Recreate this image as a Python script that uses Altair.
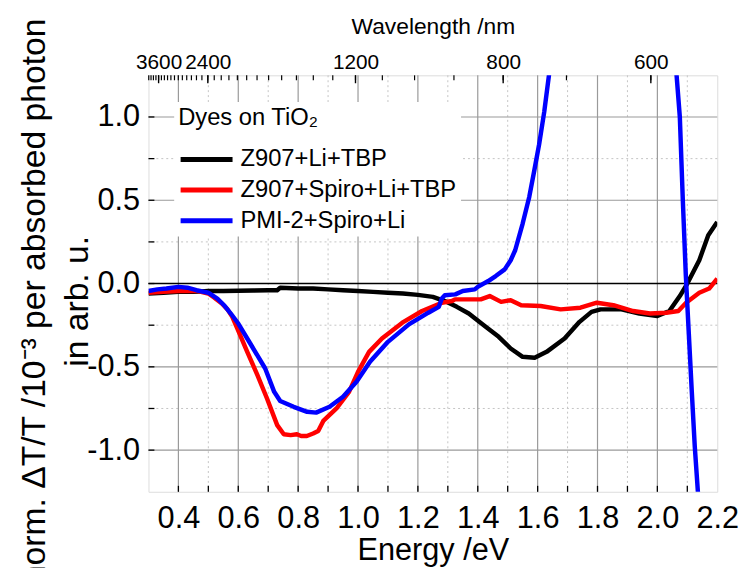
import altair as alt
import pandas as pd

FONT = "Liberation Sans"

series_names = ["Z907+Li+TBP", "Z907+Spiro+Li+TBP", "PMI-2+Spiro+Li"]
series_colors = ["#000000", "#ff0000", "#0000ff"]

# Z907+Li+TBP
black_E = [0.30, 0.35, 0.40, 0.45, 0.50, 0.55, 0.60, 0.65, 0.70, 0.73, 0.74, 0.80, 0.85, 0.90,
           0.95, 1.00, 1.05, 1.10, 1.15, 1.20, 1.25, 1.29, 1.33, 1.37, 1.42, 1.47, 1.51, 1.55,
           1.59, 1.63, 1.69, 1.74, 1.78, 1.81, 1.88, 1.94, 2.00, 2.04, 2.075, 2.10, 2.14, 2.17, 2.20]
black_v = [-0.06, -0.055, -0.05, -0.05, -0.045, -0.045, -0.043, -0.042, -0.04, -0.04, -0.025,
           -0.03, -0.03, -0.035, -0.04, -0.045, -0.05, -0.055, -0.06, -0.068, -0.08, -0.105,
           -0.14, -0.18, -0.25, -0.32, -0.39, -0.44, -0.445, -0.41, -0.33, -0.23, -0.17, -0.155,
           -0.155, -0.18, -0.195, -0.165, -0.075, 0.0, 0.14, 0.29, 0.37]

# Z907+Spiro+Li+TBP
red_E = [0.30, 0.35, 0.40, 0.465, 0.50, 0.52, 0.545, 0.564, 0.58, 0.597, 0.63, 0.664, 0.696, 0.73,
         0.752, 0.775, 0.796, 0.81, 0.829, 0.85, 0.867, 0.884, 0.928, 0.97, 1.00, 1.037, 1.08,
         1.148, 1.214, 1.28, 1.314, 1.324, 1.41, 1.44, 1.478, 1.51, 1.545, 1.61, 1.677, 1.743,
         1.798, 1.853, 1.919, 1.975, 2.03, 2.07, 2.096, 2.14, 2.173, 2.20]
red_v = [-0.055, -0.05, -0.045, -0.045, -0.06, -0.085, -0.12, -0.155, -0.2, -0.27, -0.41, -0.55,
         -0.69, -0.85, -0.905, -0.91, -0.905, -0.915, -0.915, -0.9, -0.885, -0.825, -0.75, -0.65,
         -0.53, -0.41, -0.33, -0.235, -0.165, -0.115, -0.105, -0.095, -0.095, -0.075, -0.11, -0.10,
         -0.13, -0.135, -0.155, -0.145, -0.115, -0.13, -0.165, -0.18, -0.175, -0.165, -0.115,
         -0.055, -0.03, 0.03]

# PMI-2+Spiro+Li (two visible pieces, it leaves the frame in between)
blue1_E = [0.30, 0.33, 0.36, 0.40, 0.43, 0.46, 0.50, 0.53, 0.555, 0.575, 0.60, 0.64, 0.69, 0.72,
           0.74, 0.785, 0.83, 0.86, 0.905, 0.95, 0.995, 1.04, 1.10, 1.17, 1.235, 1.27, 1.28, 1.29,
           1.325, 1.35, 1.39, 1.40, 1.435, 1.46, 1.49, 1.51, 1.525, 1.55, 1.572, 1.589, 1.605,
           1.622, 1.645]
blue1_v = [-0.045, -0.035, -0.03, -0.02, -0.025, -0.04, -0.055, -0.09, -0.135, -0.18, -0.24,
           -0.36, -0.51, -0.65, -0.705, -0.74, -0.77, -0.775, -0.74, -0.68, -0.59, -0.47, -0.35,
           -0.245, -0.175, -0.14, -0.09, -0.07, -0.065, -0.045, -0.035, -0.02, 0.015, 0.045, 0.085,
           0.14, 0.20, 0.36, 0.52, 0.68, 0.835, 1.03, 1.35]
blue2_E = [2.062, 2.075, 2.085, 2.095, 2.105, 2.115, 2.125, 2.138]
blue2_v = [1.30, 1.0, 0.5, 0.05, -0.3, -0.65, -0.98, -1.32]

x_label_values = [0.4, 0.6, 0.8, 1.0, 1.2, 1.4, 1.6, 1.8, 2.0, 2.2]
x_major_grid = [0.4, 0.6, 0.8, 1.0, 1.2, 1.4, 1.6, 1.8, 2.0]
x_minor_grid = [0.5, 0.7, 0.9, 1.1, 1.3, 1.5, 1.7, 1.9, 2.1]
x_tick_values = [0.4, 0.5, 0.6, 0.7, 0.8, 0.9, 1.0, 1.1, 1.2, 1.3, 1.4, 1.5, 1.6, 1.7, 1.8, 1.9,
                 2.0, 2.1]
y_label_values = [-1.0, -0.5, 0.0, 0.5, 1.0]
y_major_grid = [-1.0, -0.5, 0.5, 1.0]
y_minor_grid = [-0.75, -0.25, 0.25, 0.75]
y_tick_values = [-1.0, -0.75, -0.5, -0.25, 0.0, 0.25, 0.5, 0.75, 1.0]

wl_tick_nm = list(range(600, 4100, 100))
wl_label_nm = [3600, 2400, 1200, 800, 600]

W, H = 575, 421

rows = []
i = 0
for name, seg, xs, ys in [(series_names[0], "a", black_E, black_v),
                          (series_names[1], "b", red_E, red_v),
                          (series_names[2], "c1", blue1_E, blue1_v),
                          (series_names[2], "c2", blue2_E, blue2_v)]:
    for e, v in zip(xs, ys):
        rows.append({"series": name, "seg": seg, "E": e, "v": v, "i": i})
        i += 1
df = pd.DataFrame(rows)

xscale = alt.Scale(domain=[0.3, 2.2], nice=False, zero=False)
yscale = alt.Scale(domain=[-1.25, 1.25], nice=False, zero=False)

x_axis = alt.Axis(
    values=x_label_values,
    labelExpr="format(datum.value, '.1f')",
    title="Energy /eV", titleFontSize=31, titleFont=FONT, titleFontWeight="normal",
    titleColor="black", titleY=68, titleBaseline="alphabetic",
    labelFont=FONT, labelFontSize=31, labelColor="black", labelPadding=12,
    labelFlush=False, labelOverlap=False, labelBound=False,
    ticks=False, domain=False, grid=False,
)
y_axis = alt.Axis(
    values=y_label_values,
    labelExpr="replace(format(datum.value, '.1f'), '\u2212', '-')",
    title=["norm. \u0394T/T /10\u207b\u00b3 per absorbed photon", "in arb. u."],
    titleFontSize=34, titleFont=FONT, titleFontWeight="normal", titleColor="black",
    titleAngle=270, titleAlign="center", titleBaseline="alphabetic",
    titleX=-105, titleY=228, titleLineHeight=43,
    labelFont=FONT, labelFontSize=31, labelColor="black", labelPadding=9,
    labelOverlap=False, labelFlush=False, labelBound=False,
    ticks=False, domain=False, grid=False,
)

# grid
xg_major = alt.Chart(pd.DataFrame({"E": x_major_grid})).mark_rule(
    color="#9a9a9a", strokeWidth=1.2).encode(x=alt.X("E:Q", scale=xscale, axis=x_axis))
xg_minor = alt.Chart(pd.DataFrame({"E": x_minor_grid})).mark_rule(
    color="#c4c4c4", strokeWidth=1, strokeDash=[2, 3]).encode(x=alt.X("E:Q", scale=xscale))
yg_major = alt.Chart(pd.DataFrame({"v": y_major_grid})).mark_rule(
    color="#9a9a9a", strokeWidth=1.2).encode(y=alt.Y("v:Q", scale=yscale, axis=y_axis))
yg_minor = alt.Chart(pd.DataFrame({"v": y_minor_grid})).mark_rule(
    color="#c4c4c4", strokeWidth=1, strokeDash=[2, 3]).encode(y=alt.Y("v:Q", scale=yscale))

zero_line = alt.Chart(pd.DataFrame({"v": [0.0]})).mark_rule(
    color="black", strokeWidth=1.5).encode(y=alt.Y("v:Q", scale=yscale))

x_ticks = alt.Chart(pd.DataFrame({"E": x_tick_values})).mark_rule(
    color="black", strokeWidth=1.3).encode(
    x=alt.X("E:Q", scale=xscale), y=alt.value(H), y2=alt.value(H - 6))
y_ticks = alt.Chart(pd.DataFrame({"v": y_tick_values})).mark_rule(
    color="black", strokeWidth=1.3).encode(
    y=alt.Y("v:Q", scale=yscale), x=alt.value(0), x2=alt.value(6))

lines = alt.Chart(df).mark_line(strokeWidth=4.5, clip=True, strokeJoin="round").encode(
    x=alt.X("E:Q", scale=xscale),
    y=alt.Y("v:Q", scale=yscale),
    color=alt.Color("series:N", scale=alt.Scale(domain=series_names, range=series_colors),
                    legend=alt.Legend(
                        title="Dyes on TiO\u2082", orient="none", legendX=26, legendY=27,
                        titleFont=FONT, titleFontSize=24, titleFontWeight="normal",
                        titleColor="black", titlePadding=17,
                        labelFont=FONT, labelFontSize=24, labelColor="black", labelOffset=37,
                        labelLimit=0,
                        symbolType="M-1,0H4", symbolSize=441, symbolStrokeWidth=5,
                        rowPadding=6, padding=4, fillColor="white")),
    detail="seg:N",
    order="i:Q",
)

main = alt.layer(xg_minor, yg_minor, xg_major, yg_major, zero_line, lines, x_ticks, y_ticks)

top_scale = alt.Scale(domain=[0.309, 2.299], nice=False, zero=False)
top_axis = alt.Axis(
    orient="top", values=[1240.0 / n for n in wl_label_nm],
    labelExpr="format(1240/datum.value, '.0f')",
    title="Wavelength /nm", titleFont=FONT, titleFontSize=23, titleFontWeight="normal",
    titleColor="black", titleY=-42, titleBaseline="alphabetic",
    labelFont=FONT, labelFontSize=21, labelColor="black", labelPadding=7,
    labelBaseline="alphabetic", labelFlush=False, labelOverlap=False, labelBound=False,
    ticks=False, domain=False, grid=False,
)
wl_minor = alt.Chart(pd.DataFrame({"nm": wl_tick_nm})).transform_calculate(
    Et="1240/datum.nm").mark_rule(color="black", strokeWidth=1.2).encode(
    x=alt.X("Et:Q", scale=top_scale, axis=top_axis), y=alt.value(0), y2=alt.value(5))
wl_major = alt.Chart(pd.DataFrame({"nm": wl_label_nm})).transform_calculate(
    Et="1240/datum.nm").mark_rule(color="black", strokeWidth=1.4).encode(
    x=alt.X("Et:Q", scale=top_scale), y=alt.value(0), y2=alt.value(8))
top = alt.layer(wl_minor, wl_major)

chart = alt.layer(main, top).resolve_scale(x="independent").properties(
    width=W, height=H,
    autosize=alt.AutoSizeParams(type="none"),
    padding={"left": 142, "top": 65, "right": 23, "bottom": 74},
).configure_view(stroke="black", strokeWidth=1.8).configure(background="white")

chart.save("out.html", embed_options={"renderer": "svg", "actions": False})
